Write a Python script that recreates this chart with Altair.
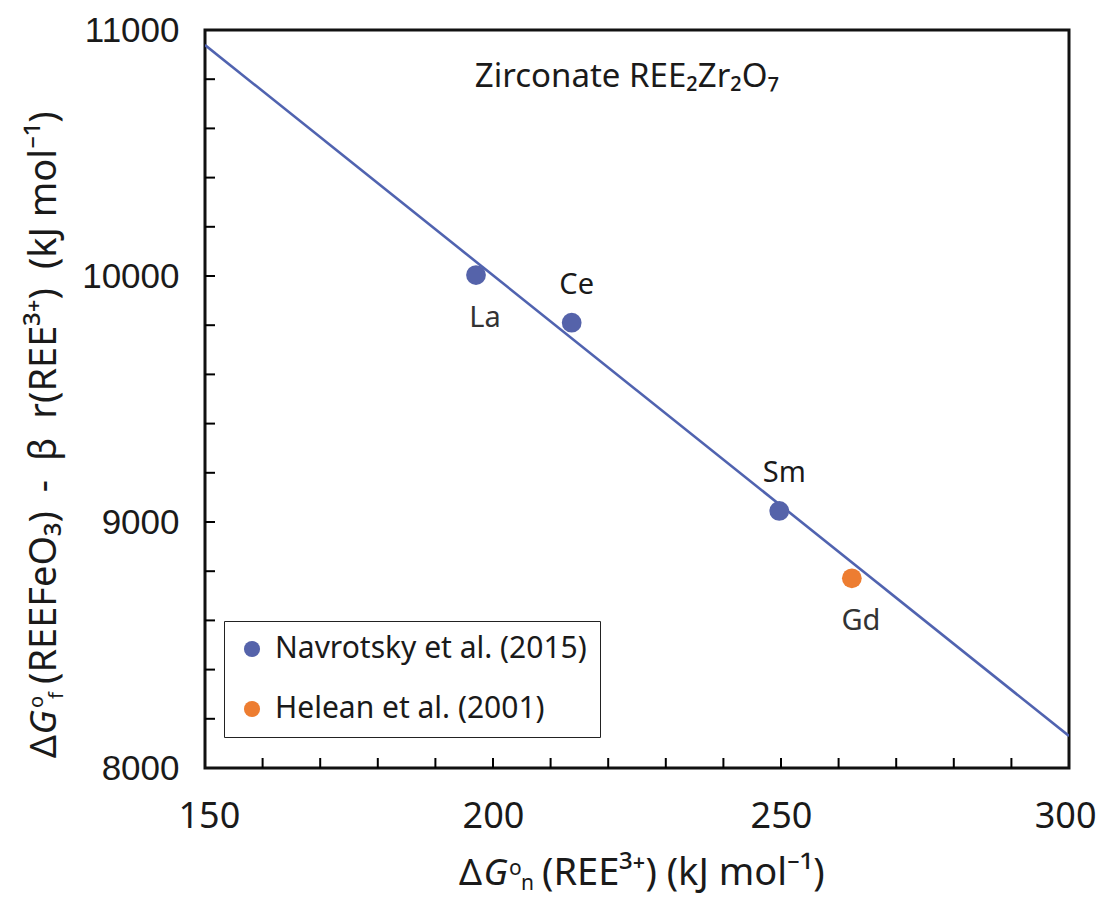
import altair as alt
import pandas as pd

# ---------------- data ----------------
elements = ["La", "Ce", "Sm", "Gd"]
dg_n = [197.05, 213.66, 249.7, 262.3]
dg_f = [10004, 9810, 9045, 8771]
sources = ["Navrotsky et al. (2015)", "Navrotsky et al. (2015)",
           "Navrotsky et al. (2015)", "Helean et al. (2001)"]
label_side = ["below", "above", "above", "below"]

fit_x = [150, 300]
fit_y = [10939, 8130]

x_label_values = [150, 200, 250, 300]
y_label_values = [8000, 9000, 10000, 11000]
x_tick_values = [160, 170, 180, 190, 200, 210, 220, 230, 240, 250, 260, 270, 280, 290]
y_tick_values = [8200, 8400, 8600, 8800, 9000, 9200, 9400, 9600, 9800,
                 10000, 10200, 10400, 10600, 10800]

series_domain = ["Navrotsky et al. (2015)", "Helean et al. (2001)"]
series_colors = ["#5563AA", "#ED7D31"]
line_color = "#5063B0"

W, H = 864, 738
FONT = "Noto Sans"

pts = pd.DataFrame({"x": dg_n, "y": dg_f, "el": elements, "src": sources, "side": label_side})
fit = pd.DataFrame({"x": fit_x, "y": fit_y})
xt = pd.DataFrame({"x": x_tick_values})
yt = pd.DataFrame({"y": y_tick_values})
one = pd.DataFrame({"k": [0]})

xscale = alt.Scale(domain=[150, 300], nice=False, zero=False)
yscale = alt.Scale(domain=[8000, 11000], nice=False, zero=False)
xaxis = alt.Axis(values=x_label_values, title=None, ticks=False, domain=False, grid=False,
                 labelFont=FONT, labelFontSize=36, labelColor="#1a1a1a",
                 labelFlush=True, labelFlushOffset=27,
                 labelPadding=31, format="d")
yaxis = alt.Axis(values=y_label_values, title=None, ticks=False, domain=False, grid=False,
                 labelFont="Liberation Sans", labelFontSize=35, labelColor="#1a1a1a",
                 labelFlush=False, labelPadding=26, format="d")


def X(f="x:Q"):
    return alt.X(f, scale=xscale, axis=xaxis)


def Y(f="y:Q"):
    return alt.Y(f, scale=yscale, axis=yaxis)


line = alt.Chart(fit).mark_line(color=line_color, strokeWidth=2.6, clip=True).encode(
    x=X(), y=Y())

points = alt.Chart(pts).mark_circle(size=390, opacity=1).encode(
    x=X(), y=Y(),
    color=alt.Color("src:N", scale=alt.Scale(domain=series_domain, range=series_colors),
                    legend=alt.Legend(title=None, orient="none", legendX=19, legendY=591,
                                      symbolType="circle", symbolSize=260, symbolStrokeWidth=0,
                                      labelFont=FONT, labelFontSize=30, labelColor="#1a1a1a",
                                      labelOffset=8, rowPadding=30, padding=13,
                                      strokeColor="#222222", fillColor="white",
                                      labelLimit=500)),
)

labels_above = alt.Chart(pts).transform_filter(alt.datum.side == "above").mark_text(
    font=FONT, fontSize=29, color="#1a1a1a", dy=-38, dx=5, baseline="middle"
).encode(x=X(), y=Y(), text="el:N")

labels_below = alt.Chart(pts).transform_filter(alt.datum.side == "below").mark_text(
    font=FONT, fontSize=29, color="#333333", dy=43, dx=9, baseline="middle"
).encode(x=X(), y=Y(), text="el:N")

xticks = alt.Chart(xt).mark_rule(color="black", strokeWidth=2).encode(
    x=X(), y=alt.value(H), y2=alt.value(H - 10))
yticks = alt.Chart(yt).mark_rule(color="black", strokeWidth=2).encode(
    y=Y(), x=alt.value(0), x2=alt.value(10))


def txt(s, x, y, size, align="left", angle=0, dx=0, dy=0, style="normal"):
    kw = dict(text=s, font=FONT, fontSize=size, color="#1a1a1a", align=align,
              baseline="alphabetic", dx=dx, dy=dy, fontStyle=style)
    if angle:
        kw["angle"] = angle
    return alt.Chart(one).mark_text(**kw).encode(x=alt.value(x), y=alt.value(y))


annot = txt("Zirconate REE\u2082Zr\u2082O\u2087", 422, 57, 33, align="center")

# x-axis title pieces
XB = 855
XA = 303
xtitle = [
    txt("\u0394", XA - 26, XB, 36, align="right"),
    txt("G", XA, XB, 36, align="right", style="italic"),
    txt("o", XA + 1, XB - 10, 21),
    txt("n", XA + 13, XB + 5, 21),
    txt("(REE\u00b3\u207a) (kJ mol\u207b\u00b9)", XA + 34, XB, 38),
]

# y-axis title pieces (rotated)
YX, YA = -149, 680
ytitle = [
    txt("\u0394", YX, YA, 36, align="right", angle=270, dx=-25),
    txt("G", YX, YA, 36, align="right", angle=270, style="italic"),
    txt("o", YX, YA, 20, angle=270, dx=2, dy=-13),
    txt("f", YX, YA, 20, angle=270, dx=11, dy=7),
    txt("(REEFeO\u2083)\u2002-\u2002\u03b2\u2002r(REE\u00b3\u207a)\u2002(kJ mol\u207b\u00b9)",
        YX, YA, 38, angle=270, dx=26),
]

chart = alt.layer(
    line, xticks, yticks, points, labels_above, labels_below, annot, *xtitle, *ytitle
).properties(
    width=W, height=H,
    background="white",
    autosize=alt.AutoSizeParams(type="none"),
    padding={"left": 197, "top": 22, "right": 27, "bottom": 131},
).configure_view(stroke="#111111", strokeWidth=3)

chart.save("out.html", embed_options={"renderer": "svg", "actions": False})
